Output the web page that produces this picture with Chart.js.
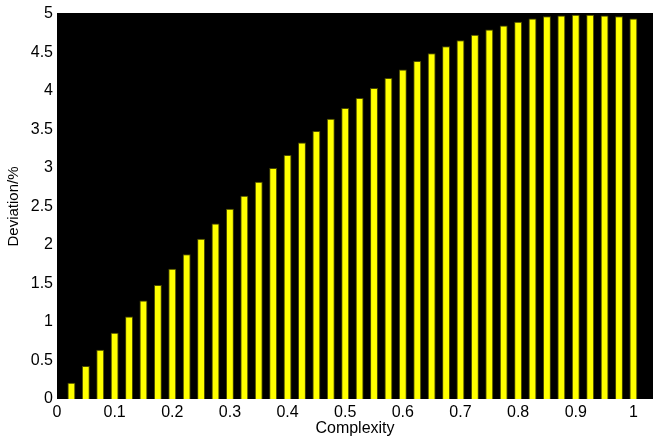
<!DOCTYPE html>
<html>
<head>
<meta charset="utf-8">
<title>Deviation vs Complexity</title>
<script src="https://cdn.jsdelivr.net/npm/chart.js@4.4.1/dist/chart.umd.min.js"></script>
<style>
  html, body { margin: 0; padding: 0; background: #ffffff; }
  #wrap { width: 653px; height: 438px; }
</style>
</head>
<body>
<div id="wrap"><canvas id="chart" width="653" height="438"></canvas></div>
<script>
// Complexity levels (x positions of the bars)
const complexity = [
  0.025, 0.05, 0.075, 0.1, 0.125, 0.15, 0.175, 0.2, 0.225, 0.25,
  0.275, 0.3, 0.325, 0.35, 0.375, 0.4, 0.425, 0.45, 0.475, 0.5,
  0.525, 0.55, 0.575, 0.6, 0.625, 0.65, 0.675, 0.7, 0.725, 0.75,
  0.775, 0.8, 0.825, 0.85, 0.875, 0.9, 0.925, 0.95, 0.975, 1.0
];

// Deviation in percent for each complexity level
const deviation = [
  0.21, 0.43, 0.64, 0.86, 1.07, 1.28, 1.48, 1.69, 1.88, 2.08,
  2.28, 2.47, 2.64, 2.82, 3.00, 3.17, 3.33, 3.48, 3.64, 3.78,
  3.91, 4.04, 4.17, 4.28, 4.39, 4.49, 4.58, 4.66, 4.73, 4.80,
  4.85, 4.90, 4.94, 4.97, 4.98, 4.99, 4.99, 4.98, 4.97, 4.94
];

// Axis tick values
const xTicks = [0, 0.1, 0.2, 0.3, 0.4, 0.5, 0.6, 0.7, 0.8, 0.9, 1];
const yTicks = [0, 0.5, 1, 1.5, 2, 2.5, 3, 3.5, 4, 4.5, 5];

const FONT = "'Liberation Sans', Arial, Helvetica, sans-serif";

// Black plot background drawn inside the chart area
const plotBackground = {
  id: 'plotBackground',
  beforeDatasetsDraw(chart) {
    const { ctx, chartArea: a } = chart;
    ctx.save();
    ctx.fillStyle = '#000000';
    ctx.fillRect(a.left, a.top - 1, a.right - a.left, a.bottom - a.top + 1);
    ctx.restore();
  }
};

const points = complexity.map((x, i) => ({ x: x, y: deviation[i] }));

new Chart(document.getElementById('chart'), {
  type: 'bar',
  data: {
    datasets: [{
      data: points,
      backgroundColor: '#ffff00',
      borderColor: '#4a4a00',
      borderWidth: 1,
      borderSkipped: 'start',
      barPercentage: 0.55,
      categoryPercentage: 1.0
    }]
  },
  options: {
    responsive: false,
    animation: false,
    layout: { padding: { top: 14, right: 0, bottom: 0, left: 0 } },
    plugins: {
      legend: { display: false },
      tooltip: { enabled: false }
    },
    scales: {
      x: {
        type: 'linear',
        min: 0,
        max: 1.034,
        offset: false,
        grid: { display: false, drawTicks: false },
        border: { display: false },
        afterFit(scale) { scale.height = 39; },
        afterBuildTicks(scale) { scale.ticks = xTicks.map(v => ({ value: v })); },
        ticks: {
          includeBounds: false,
          padding: 4,
          color: '#000000',
          font: { family: FONT, size: 16 },
          maxRotation: 0,
          callback: (v) => String(v)
        },
        title: {
          display: true,
          text: 'Complexity',
          color: '#000000',
          font: { family: FONT, size: 16 },
          padding: { top: 0, bottom: 0 }
        }
      },
      y: {
        type: 'linear',
        min: 0,
        max: 5,
        grid: { display: false, drawTicks: false },
        border: { display: false },
        afterFit(scale) { scale.width = 57; },
        afterBuildTicks(scale) { scale.ticks = yTicks.map(v => ({ value: v })); },
        ticks: {
          padding: 4,
          color: '#000000',
          font: { family: FONT, size: 16 },
          callback: (v) => String(v)
        },
        title: {
          display: true,
          text: 'Deviation/%',
          color: '#000000',
          font: { family: FONT, size: 15 },
          padding: { top: 5, bottom: 0 }
        }
      }
    }
  },
  plugins: [plotBackground]
});
</script>
</body>
</html>
